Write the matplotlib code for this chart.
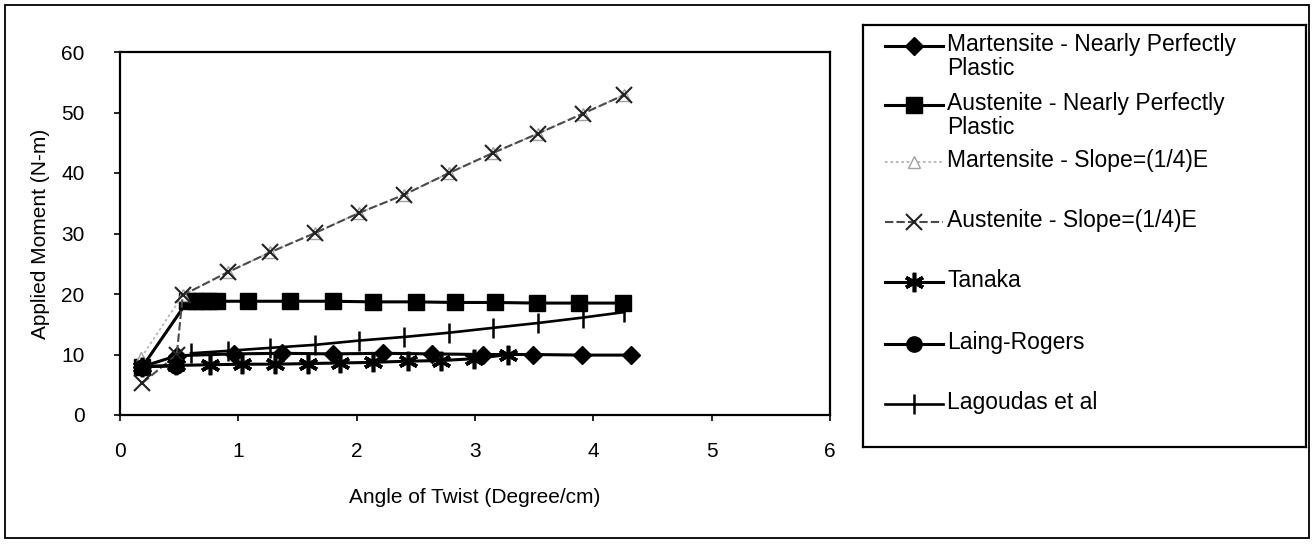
"""
Applied moment vs. angle of twist for SMA torque models
"""

import matplotlib.pyplot as plt
from matplotlib.patches import Rectangle

plt.rcParams['font.family'] = ['Liberation Sans', 'DejaVu Sans']

# Martensite - Nearly Perfectly Plastic
mart_npp_x = [0.19, 0.48, 0.96, 1.37, 1.80, 2.22, 2.64, 3.07, 3.49, 3.90, 4.32]
mart_npp_y = [8.0, 9.8, 10.1, 10.2, 10.1, 10.2, 10.1, 10.0, 10.0, 9.9, 9.9]

# Austenite - Nearly Perfectly Plastic
aust_npp_x = [0.19, 0.57, 0.63, 0.69, 0.75, 0.82, 1.08, 1.44, 1.80, 2.14,
              2.50, 2.83, 3.17, 3.52, 3.88, 4.25]
aust_npp_y = [8.0, 18.8, 18.8, 18.8, 18.8, 18.8, 18.8, 18.8, 18.8, 18.7,
              18.7, 18.6, 18.6, 18.5, 18.5, 18.5]

# Martensite - Slope=(1/4)E
mart_slope_x = [0.18, 0.53, 0.91, 1.27, 1.65, 2.02, 2.40, 2.78, 3.15, 3.53, 3.91, 4.26]
mart_slope_y = [9.5, 19.8, 23.6, 26.9, 30.1, 33.4, 36.4, 40.0, 43.3, 46.5, 49.8, 52.9]

# Austenite - Slope=(1/4)E
aust_slope_x = [0.19, 0.48, 0.53, 0.91, 1.27, 1.65, 2.02, 2.40, 2.78, 3.15,
                3.53, 3.91, 4.26]
aust_slope_y = [5.3, 10.0, 19.8, 23.6, 26.9, 30.1, 33.4, 36.4, 40.0, 43.3,
                46.5, 49.8, 52.9]

# Tanaka
tanaka_x = [0.19, 0.47, 0.76, 1.03, 1.31, 1.59, 1.86, 2.14, 2.43, 2.71, 2.99, 3.28]
tanaka_y = [8.0, 8.2, 8.3, 8.4, 8.4, 8.5, 8.6, 8.7, 8.9, 9.0, 9.3, 10.0]

# Laing-Rogers
laing_x = [0.19, 0.47]
laing_y = [8.0, 8.1]

# Lagoudas et al
lagoudas_x = [0.60, 0.91, 1.27, 1.65, 2.02, 2.40, 2.78, 3.15, 3.53, 3.91, 4.26]
lagoudas_y = [10.2, 10.6, 11.1, 11.6, 12.3, 12.9, 13.6, 14.4, 15.2, 16.1, 17.0]

x_ticks = [0, 1, 2, 3, 4, 5, 6]
y_ticks = [0, 10, 20, 30, 40, 50, 60]

labels = [
    'Martensite - Nearly Perfectly\nPlastic',
    'Austenite - Nearly Perfectly\nPlastic',
    'Martensite - Slope=(1/4)E',
    'Austenite - Slope=(1/4)E',
    'Tanaka',
    'Laing-Rogers',
    'Lagoudas et al',
]

# line / marker styles for each series (same order as labels)
styles = [
    dict(color='black', lw=2.2, marker='D', ms=9, mfc='black', mec='black'),
    dict(color='black', lw=2.2, marker='s', ms=11, mfc='black', mec='black'),
    dict(color='#b5b5b5', lw=1.3, ls=(0, (1.5, 1.5)), marker='^', ms=9,
         mfc='white', mec='#a0a0a0', mew=1.0),
    dict(color='#4a4a4a', lw=1.5, ls=(0, (4, 1.5)), marker='x', ms=12,
         mec='#222222', mew=1.5),
    dict(color='black', lw=2.2, marker=(6, 2, 0), ms=14, mec='black', mew=2.6),
    dict(color='black', lw=2.2, marker='o', ms=11, mfc='black', mec='black'),
    dict(color='black', lw=1.9, marker='|', ms=15, mec='black', mew=1.8),
]

series = [
    (mart_npp_x, mart_npp_y),
    (aust_npp_x, aust_npp_y),
    (mart_slope_x, mart_slope_y),
    (aust_slope_x, aust_slope_y),
    (tanaka_x, tanaka_y),
    (laing_x, laing_y),
    (lagoudas_x, lagoudas_y),
]

fig = plt.figure(figsize=(13.14, 5.44), dpi=100)
fig.patch.set_facecolor('white')

# outer frame around the whole chart
fig.patches.append(Rectangle((5 / 1314, 1 - 538 / 544), 1304 / 1314, 533 / 544,
                             transform=fig.transFigure, fill=False,
                             edgecolor='black', lw=1.3))

ax = fig.add_axes([120 / 1314, 1 - 415 / 544, 710 / 1314, 363 / 544])
draw_order = [2, 3, 1, 6, 0, 4, 5]
for i in draw_order:
    xs, ys = series[i]
    ax.plot(xs, ys, clip_on=False, zorder=3 + i * 0.1, **styles[i])

ax.set_xlim(0, 6)
ax.set_ylim(0, 60)
ax.set_xticks(x_ticks)
ax.set_yticks(y_ticks)
ax.tick_params(axis='both', direction='out', length=4.5, width=1.2, labelsize=15)
ax.tick_params(axis='x', pad=15)
ax.tick_params(axis='y', pad=21)
for spine in ax.spines.values():
    spine.set_linewidth(1.6)

ax.set_xlabel('Angle of Twist (Degree/cm)', fontsize=15)
ax.set_ylabel('Applied Moment (N-m)', fontsize=15)
ax.xaxis.set_label_coords(0.5, -0.20)
ax.yaxis.set_label_coords(-0.098, 0.5)

# legend box drawn by hand so markers sit next to the first text line
leg = fig.add_axes([863 / 1314, 1 - 447 / 544, 443 / 1314, 422 / 544])
leg.set_xlim(863, 1306)
leg.set_ylim(447, 25)
leg.set_xticks([])
leg.set_yticks([])
for spine in leg.spines.values():
    spine.set_linewidth(1.6)

row_y = [46, 105, 162, 222, 282, 344, 404]
for i, label in enumerate(labels):
    y = row_y[i]
    st = dict(styles[i])
    leg.plot([885, 943], [y, y], **{k: v for k, v in st.items()
                                    if k in ('color', 'lw', 'ls')})
    leg.plot([914], [y], ls='none', **{k: v for k, v in st.items()
                                       if k not in ('color', 'lw', 'ls')})
    leg.text(947, y - 13, label, fontsize=16.5, va='top', ha='left',
             linespacing=1.05)

fig.savefig('out.png', dpi=100, facecolor='white')
